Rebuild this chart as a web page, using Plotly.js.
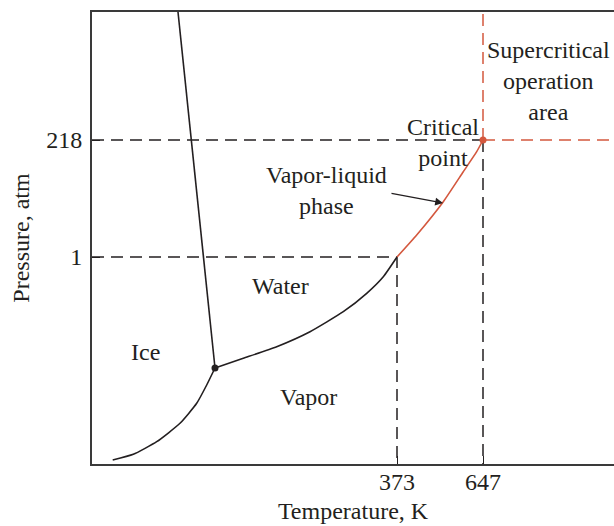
<!DOCTYPE html>
<html>
<head>
<meta charset="utf-8">
<script src="https://cdn.plot.ly/plotly-3.0.1.min.js"></script>
<style>html,body{margin:0;padding:0;background:#fff;}#chart{width:614px;height:526px;}</style>
</head>
<body>
<div id="chart"></div>
<script>
// Schematic coordinates (phase diagram is not to scale)
const tempTickVals = [305, 391];
const tempTickText = ['373', '647'];
const presTickVals = [207, 324];
const presTickText = ['1', '218'];

// Solid-liquid (melting) line
const meltT = [86, 123];
const meltP = [452, 96];
// Solid-vapor (sublimation) curve
const sublT = [20.7, 41.3, 64.7, 88, 104.7, 114.7, 123];
const sublP = [4, 9.7, 22.3, 40.7, 60.7, 79, 96];
// Liquid-vapor curve up to 1 atm point
const vapT = [123, 151.3, 184.7, 218, 251.3, 274.7, 291.3, 305];
const vapP = [96, 105.7, 117.3, 132.3, 152.3, 170.7, 187.3, 207];
// Vapor-liquid curve 1 atm -> critical point (red)
const critT = [305, 324.7, 351.3, 371.3, 384.7, 391];
const critP = [207, 229, 262.3, 292.3, 312.3, 324];

const xMax = 522, yMax = 452;
const ink = '#231f20', red = '#d4583e';
const dash = '12px,7px';
const fnt = {family: '"Liberation Serif", "Times New Roman", serif', size: 24, color: ink};

const tp = [meltT[1], meltP[1]];
const cp = [critT[critT.length-1], critP[critP.length-1]];
const bp = [vapT[vapT.length-1], vapP[vapP.length-1]];

const traces = [
  {x: [0, bp[0], bp[0]], y: [bp[1], bp[1], 0], mode: 'lines', line: {color: ink, width: 1.5, dash: dash}},
  {x: [0, cp[0]], y: [cp[1], cp[1]], mode: 'lines', line: {color: ink, width: 1.5, dash: dash}},
  {x: [cp[0], cp[0]], y: [cp[1], 0], mode: 'lines', line: {color: ink, width: 1.5, dash: dash}},
  {x: [cp[0], xMax], y: [cp[1], cp[1]], mode: 'lines', line: {color: red, width: 1.5, dash: dash}},
  {x: [cp[0], cp[0]], y: [cp[1], yMax], mode: 'lines', line: {color: red, width: 1.5, dash: dash}},
  {x: meltT, y: meltP, mode: 'lines', line: {color: ink, width: 1.6}},
  {x: sublT, y: sublP, mode: 'lines', line: {color: ink, width: 1.6, shape: 'spline', smoothing: 0.5}},
  {x: vapT, y: vapP, mode: 'lines', line: {color: ink, width: 1.6, shape: 'spline', smoothing: 0.5}},
  {x: critT, y: critP, mode: 'lines', line: {color: red, width: 1.6, shape: 'spline', smoothing: 0.5}},
  {x: [tp[0]], y: [tp[1]], mode: 'markers', marker: {color: ink, size: 7}},
  {x: [cp[0]], y: [cp[1]], mode: 'markers', marker: {color: red, size: 7}}
];

function lab(x, y, text) {
  return {x: x, y: y, xref: 'x', yref: 'y', text: text, showarrow: false, font: fnt, xanchor: 'center', yanchor: 'middle'};
}

const layout = {
  width: 614, height: 526,
  margin: {l: 92, r: 0, t: 12, b: 62},
  paper_bgcolor: '#fff', plot_bgcolor: '#fff',
  showlegend: false,
  font: fnt,
  xaxis: {
    range: [0, xMax], showgrid: false, zeroline: false,
    showline: true, linecolor: '#3a3a3a', linewidth: 2, mirror: true,
    tickvals: tempTickVals, ticktext: tempTickText, ticks: 'inside', ticklen: 8, tickcolor: ink,
    tickfont: fnt, ticklabelstandoff: -5,
    title: {text: 'Temperature, K', font: fnt, standoff: 8}
  },
  yaxis: {
    range: [0, yMax], showgrid: false, zeroline: false,
    showline: true, linecolor: '#3a3a3a', linewidth: 2, mirror: false,
    tickvals: presTickVals, ticktext: presTickText, ticks: 'inside', ticklen: 8, tickcolor: ink,
    tickfont: fnt, ticklabelstandoff: 3,
    title: {text: 'Pressure, atm', font: fnt, standoff: 10}
  },
  annotations: [
    lab(456, 383, 'Supercritical<br>operation<br>area'),
    lab(351, 322, 'Critical<br>point'),
    lab(234, 274, 'Vapor-liquid<br>phase'),
    lab(188, 178, 'Water'),
    lab(53, 112, 'Ice'),
    lab(216, 67, 'Vapor'),
    {x: 351, y: 261, ax: 298, ay: 271, xref: 'x', yref: 'y', axref: 'x', ayref: 'y', text: '',
     showarrow: true, arrowhead: 2, arrowsize: 1.2, arrowwidth: 1.3, arrowcolor: ink}
  ]
};

Plotly.newPlot('chart', traces, layout, {staticPlot: true});
</script>
</body>
</html>
